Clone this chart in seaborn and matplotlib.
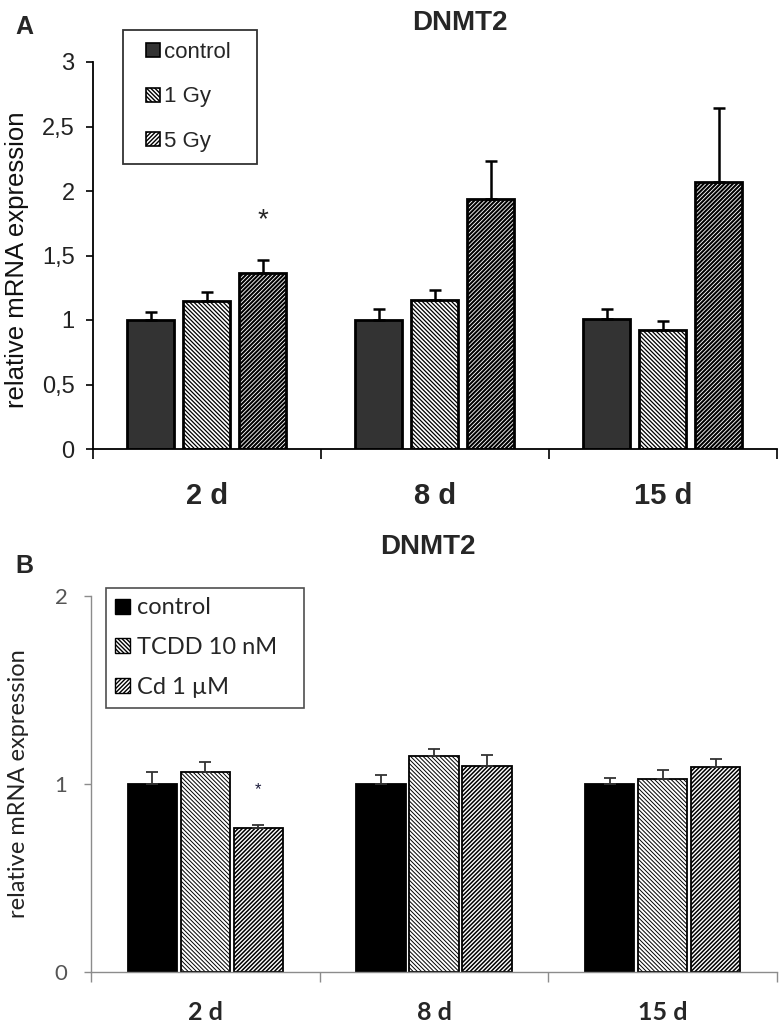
import numpy as np
import pandas as pd
import matplotlib
matplotlib.use("Agg")
import matplotlib.pyplot as plt
import seaborn as sns
from matplotlib.patches import Patch, Rectangle
from matplotlib.legend_handler import HandlerPatch

sns.set_style("ticks")
plt.rcParams["font.family"] = ["Liberation Sans", "DejaVu Sans"]

days = ["2 d", "8 d", "15 d"]

# panel A: irradiation
a_groups = ["control", "1 Gy", "5 Gy"]
a_control = [1.00, 1.00, 1.01]
a_control_err = [0.064, 0.085, 0.075]
a_1gy = [1.15, 1.157, 0.923]
a_1gy_err = [0.066, 0.079, 0.067]
a_5gy = [1.365, 1.935, 2.07]
a_5gy_err = [0.10, 0.30, 0.57]
a_yticks = [0, 0.5, 1, 1.5, 2, 2.5, 3]
a_yticklabels = ["0", "0,5", "1", "1,5", "2", "2,5", "3"]

# panel B: TCDD / cadmium
b_groups = ["control", "TCDD 10 nM", "Cd 1 µM"]
b_control = [1.00, 1.00, 1.00]
b_control_err = [0.066, 0.046, 0.034]
b_tcdd = [1.062, 1.147, 1.028]
b_tcdd_err = [0.057, 0.037, 0.045]
b_cd = [0.766, 1.096, 1.089]
b_cd_err = [0.016, 0.058, 0.044]
b_yticks = [0, 1, 2]

NARROW = ["Liberation Sans Narrow", "Liberation Sans", "DejaVu Sans"]
CALIBRI = ["Lato", "DejaVu Sans"]


def make_df(groups, series):
    rows = []
    for g, vals in zip(groups, series):
        for d, v in zip(days, vals):
            rows.append({"day": d, "group": g, "value": v})
    return pd.DataFrame(rows)


def draw_bars(ax, groups, series, errs, fills, hatches, hcolors, hlw, edge_lw,
              width, gap, err_color, err_lw):
    df = make_df(groups, series)
    sns.barplot(data=df, x="day", y="value", hue="group", order=days,
                hue_order=groups, palette=dict(zip(groups, fills)),
                saturation=1, width=width, gap=gap, edgecolor="black",
                linewidth=edge_lw, errorbar=None, legend=False, ax=ax)
    for cont, err, h, hc, lw in zip(ax.containers, errs, hatches, hcolors, hlw):
        for bar, e in zip(cont, err):
            if h:
                bar.set_hatch(h)
                if hasattr(bar, "set_hatchcolor"):
                    bar.set_hatchcolor(hc)
                if hasattr(bar, "set_hatch_linewidth"):
                    bar.set_hatch_linewidth(lw)
            x = bar.get_x() + bar.get_width() / 2
            ax.errorbar(x, bar.get_height(), yerr=[[0], [e]], fmt="none",
                        ecolor=err_color, elinewidth=err_lw, capsize=4.5,
                        capthick=err_lw, zorder=4)
    return ax.containers


def right_square(legend, orig_handle, xdescent, ydescent, width, height, fontsize):
    # small square sitting at the right end of the handle slot
    return Rectangle((-xdescent + width - height, -ydescent), height, height)


fig = plt.figure(figsize=(7.84, 10.32), dpi=100)

# ---------------- panel A ----------------
axA = fig.add_axes([92.7 / 784, 1 - 449 / 1032, 684 / 784, 387 / 1032])
a_fills = ["#333333", "white", "white"]
a_hatch = [None, "\\\\\\\\\\\\\\\\", "////////"]
contA = draw_bars(axA, a_groups, [a_control, a_1gy, a_5gy],
                  [a_control_err, a_1gy_err, a_5gy_err], a_fills, a_hatch,
                  ["black"] * 3, [1, 0.9, 1.5], 2.0, 0.735, 0.16, "black", 1.8)
axA.set_ylim(0, 3)
axA.set_xlim(-0.5, 2.5)
axA.set_yticks(a_yticks)
axA.set_yticklabels(a_yticklabels, fontsize=17, color="#222222")
axA.set_xticks([0, 1, 2])
axA.set_xticklabels(days, fontsize=21, fontweight="bold", family=NARROW)
axA.set_xticks([-0.5, 0.5, 1.5, 2.5], minor=True)
axA.tick_params(axis="x", which="major", length=0, pad=24)
axA.tick_params(axis="x", which="minor", length=7, width=1.2, color="black")
axA.tick_params(axis="y", length=5, width=1.2, color="black", pad=8)
axA.set_xlabel("")
axA.set_ylabel("relative mRNA expression", fontsize=18.5, color="#111111",
               va="center")
axA.yaxis.set_label_coords(-0.11, 0.49)
sns.despine(ax=axA)
for s in ["left", "bottom"]:
    axA.spines[s].set_linewidth(1.3)
    axA.spines[s].set_color("black")
star_bar = contA[2][0]
axA.text(star_bar.get_x() + star_bar.get_width() / 2, 1.77, "*",
         ha="center", va="center", fontsize=20)
handlesA = [Patch(facecolor=f, edgecolor="black", hatch=h, linewidth=1.2, label=g)
            for g, f, h in zip(a_groups, a_fills, a_hatch)]
legA = axA.legend(handles=handlesA, loc="upper left",
                  bbox_to_anchor=(122.7 / 784, 1 - 30 / 1032, 134 / 784, 0.0001),
                  bbox_transform=fig.transFigure, mode="expand",
                  fontsize=16, frameon=True, fancybox=False, borderpad=0.55,
                  labelspacing=1.05, handlelength=1.15, handleheight=0.6,
                  handletextpad=0.15, borderaxespad=0,
                  handler_map={Patch: HandlerPatch(patch_func=right_square)})
legA.get_frame().set_edgecolor("black")
legA.get_frame().set_linewidth(1.3)
fig.text(460 / 784, 1 - 23 / 1032, "DNMT2", ha="center", va="center",
         fontsize=20, fontweight="bold", family=NARROW)
fig.text(24 / 784, 1 - 27 / 1032, "A", ha="center", va="center",
         fontsize=18, fontweight="bold")

# ---------------- panel B ----------------
axB = fig.add_axes([91 / 784, 1 - 972 / 1032, 686 / 784, 376 / 1032])
b_fills = ["black", "white", "white"]
b_hatch = [None, "\\\\\\\\\\\\\\\\", "////////"]
contB = draw_bars(axB, b_groups, [b_control, b_tcdd, b_cd],
                  [b_control_err, b_tcdd_err, b_cd_err], b_fills, b_hatch,
                  ["#666666", "#666666", "#222222"], [1, 0.7, 1.1], 1.3,
                  0.697, 0.07, "#333333", 1.3)
gray = "#8c8c8c"
axB.set_ylim(0, 2)
axB.set_xlim(-0.5, 2.5)
axB.set_yticks(b_yticks)
axB.set_yticklabels([str(t) for t in b_yticks], fontsize=16, color="#555555",
                    family=CALIBRI)
axB.set_xticks([0, 1, 2])
axB.set_xticklabels(days, fontsize=18, fontweight="bold", family=CALIBRI)
axB.set_xticks([-0.5, 0.5, 1.5, 2.5], minor=True)
axB.tick_params(axis="x", which="major", length=0, pad=21)
axB.tick_params(axis="x", which="minor", length=7, width=1, color=gray)
axB.tick_params(axis="y", length=5, width=1, color=gray, pad=12)
axB.set_xlabel("")
axB.set_ylabel("relative mRNA expression", fontsize=17, color="#222222",
               family=CALIBRI, va="center")
axB.yaxis.set_label_coords(-0.106, 0.5)
sns.despine(ax=axB)
for s in ["left", "bottom"]:
    axB.spines[s].set_linewidth(1.0)
    axB.spines[s].set_color(gray)
star_bar = contB[2][0]
axB.text(star_bar.get_x() + star_bar.get_width() / 2, 0.97, "*",
         ha="center", va="center", fontsize=12, color="#1a1a3a")
handlesB = [Patch(facecolor=f, edgecolor="black", hatch=h, linewidth=1.0, label=g)
            for g, f, h in zip(b_groups, b_fills, b_hatch)]
legB = axB.legend(handles=handlesB, loc="upper left",
                  bbox_to_anchor=(106 / 784, 1 - 588 / 1032, 198 / 784, 0.0001),
                  bbox_transform=fig.transFigure, mode="expand",
                  prop={"family": CALIBRI, "size": 17}, frameon=True,
                  fancybox=False, borderpad=0.4, labelspacing=0.8,
                  handlelength=0.6, handleheight=0.6, handletextpad=0.3,
                  borderaxespad=0)
legB.get_frame().set_edgecolor("#222222")
legB.get_frame().set_linewidth(1.2)
fig.text(428 / 784, 1 - 547 / 1032, "DNMT2", ha="center", va="center",
         fontsize=20, fontweight="bold", family=NARROW)
fig.text(24 / 784, 1 - 566 / 1032, "B", ha="center", va="center",
         fontsize=18, fontweight="bold")

fig.savefig("out.png", dpi=100, facecolor="white")
